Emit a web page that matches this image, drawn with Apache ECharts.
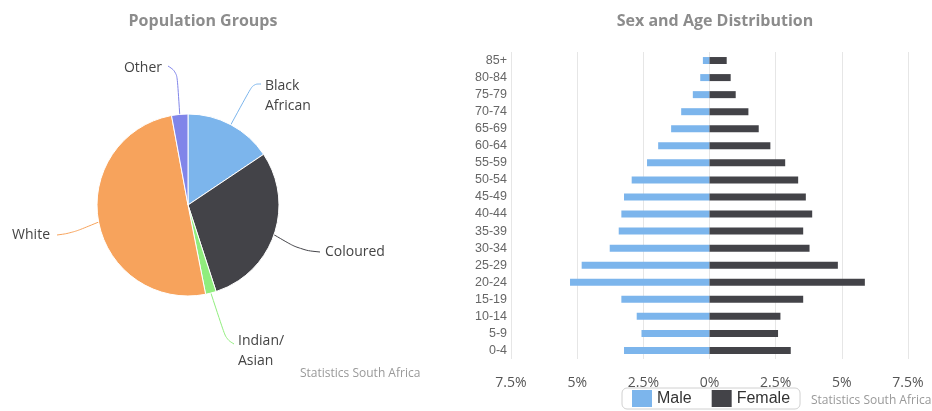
<!DOCTYPE html>
<html><head><meta charset="utf-8">
<script src="https://cdn.jsdelivr.net/npm/echarts@6/dist/echarts.min.js"></script>
<style>html,body{margin:0;padding:0;background:#fff}#c{width:932px;height:411px}</style>
</head><body><div id="c"></div>
<script>
// Population groups (share, %)
var groupNames = ['Black\nAfrican', 'Coloured', 'Indian/\nAsian', 'White', 'Other'];
var groupValues = [15.6, 29.4, 1.9, 50.2, 2.9];
var groupColors = ['#7cb5ec', '#434348', '#90ed7d', '#f7a35c', '#8085e9'];

// Age pyramid (bottom to top)
var ageGroups = ['0-4','5-9','10-14','15-19','20-24','25-29','30-34','35-39','40-44','45-49','50-54','55-59','60-64','65-69','70-74','75-79','80-84','85+'];
var maleValues = [3.23, 2.57, 2.75, 3.33, 5.27, 4.83, 3.77, 3.43, 3.33, 3.23, 2.94, 2.36, 1.94, 1.45, 1.07, 0.63, 0.35, 0.25];
var femaleValues = [3.07, 2.59, 2.68, 3.54, 5.87, 4.85, 3.78, 3.54, 3.88, 3.64, 3.35, 2.86, 2.30, 1.86, 1.47, 0.99, 0.80, 0.65];
var xTicks = {min: -7.5, max: 7.5, interval: 2.5};

// label placement for the pie labels (style only): text anchor, connector bend and end
var pieLabelPos = [
  {x: 265, y: 96, align: 'left', bend: [253, 84], end: [261, 84]},
  {x: 325, y: 252, align: 'left', bend: [300, 250], end: [320, 252]},
  {x: 238, y: 351, align: 'left', bend: [226, 339], end: [234, 344]},
  {x: 50, y: 235, align: 'right', bend: [72, 233], end: [57, 235]},
  {x: 162, y: 68, align: 'right', bend: [177, 72], end: [168, 66]}
];

var chart = echarts.init(document.getElementById('c'));
var font = 'Open Sans, Liberation Sans, sans-serif';
chart.setOption({
  animation: false,
  textStyle: {fontFamily: font},
  title: [
    {text: 'Population Groups', left: 198, top: 8, textAlign: 'center',
     textStyle: {fontSize: 16, fontWeight: 'bold', color: '#8c8c8c', fontFamily: font}},
    {text: 'Sex and Age Distribution', left: 710, top: 8, textAlign: 'center',
     textStyle: {fontSize: 16, fontWeight: 'bold', color: '#8c8c8c', fontFamily: font}}
  ],
  legend: {
    data: ['Male', 'Female'], left: 622, top: 388,
    itemWidth: 20, itemHeight: 17, itemGap: 20,
    borderColor: '#d0d0d0', borderWidth: 1, borderRadius: 5, padding: [2, 10],
    textStyle: {fontSize: 16, color: '#333', fontFamily: 'Liberation Sans, Arial, sans-serif'},
    icon: 'rect'
  },
  grid: {left: 511, right: 24, top: 52, bottom: 52},
  xAxis: {
    type: 'value', min: xTicks.min, max: xTicks.max, interval: xTicks.interval,
    axisLine: {show: false}, axisTick: {show: false},
    splitLine: {lineStyle: {color: '#e6e6e6'}},
    axisLabel: {margin: 17, fontSize: 14, color: '#555', fontFamily: font,
      formatter: function (v) { return Math.abs(v) + '%'; }}
  },
  yAxis: {
    type: 'category', data: ageGroups,
    axisLine: {show: false}, axisTick: {show: false},
    axisLabel: {margin: 4, fontSize: 12.5, color: '#666', fontFamily: 'Liberation Sans, Arial, sans-serif'}
  },
  series: [
    {
      type: 'pie', center: [188, 205], radius: 91, startAngle: 90, clockwise: true,
      data: groupNames.map(function (n, i) { return {name: n, value: groupValues[i], itemStyle: {color: groupColors[i]}}; }),
      itemStyle: {borderColor: '#fff', borderWidth: 1},
      label: {fontSize: 14, color: '#444', fontFamily: font, lineHeight: 20},
      labelLine: {length: 20, length2: 25, smooth: 0.4, lineStyle: {width: 1}},
      labelLayout: function (p) {
        var pos = pieLabelPos[p.dataIndex];
        var out = {x: pos.x, y: pos.y, align: pos.align, verticalAlign: 'middle'};
        if (p.labelLinePoints && p.labelLinePoints.length) {
          out.labelLinePoints = [p.labelLinePoints[0], pos.bend, pos.end];
        }
        return out;
      },
      emphasis: {disabled: true}
    },
    {
      name: 'Male', type: 'bar', stack: 'pop', barWidth: 7,
      data: maleValues.map(function (v) { return -v; }),
      itemStyle: {color: '#7cb5ec'}
    },
    {
      name: 'Female', type: 'bar', stack: 'pop', barWidth: 7,
      data: femaleValues,
      itemStyle: {color: '#434348'}
    }
  ],
  graphic: [
    {type: 'text', left: 300, top: 368, style: {text: 'Statistics South Africa', fontSize: 12, fill: '#999', fontFamily: font}},
    {type: 'text', left: 811, top: 395, style: {text: 'Statistics South Africa', fontSize: 12, fill: '#999', fontFamily: font}}
  ]
});
</script></body></html>
